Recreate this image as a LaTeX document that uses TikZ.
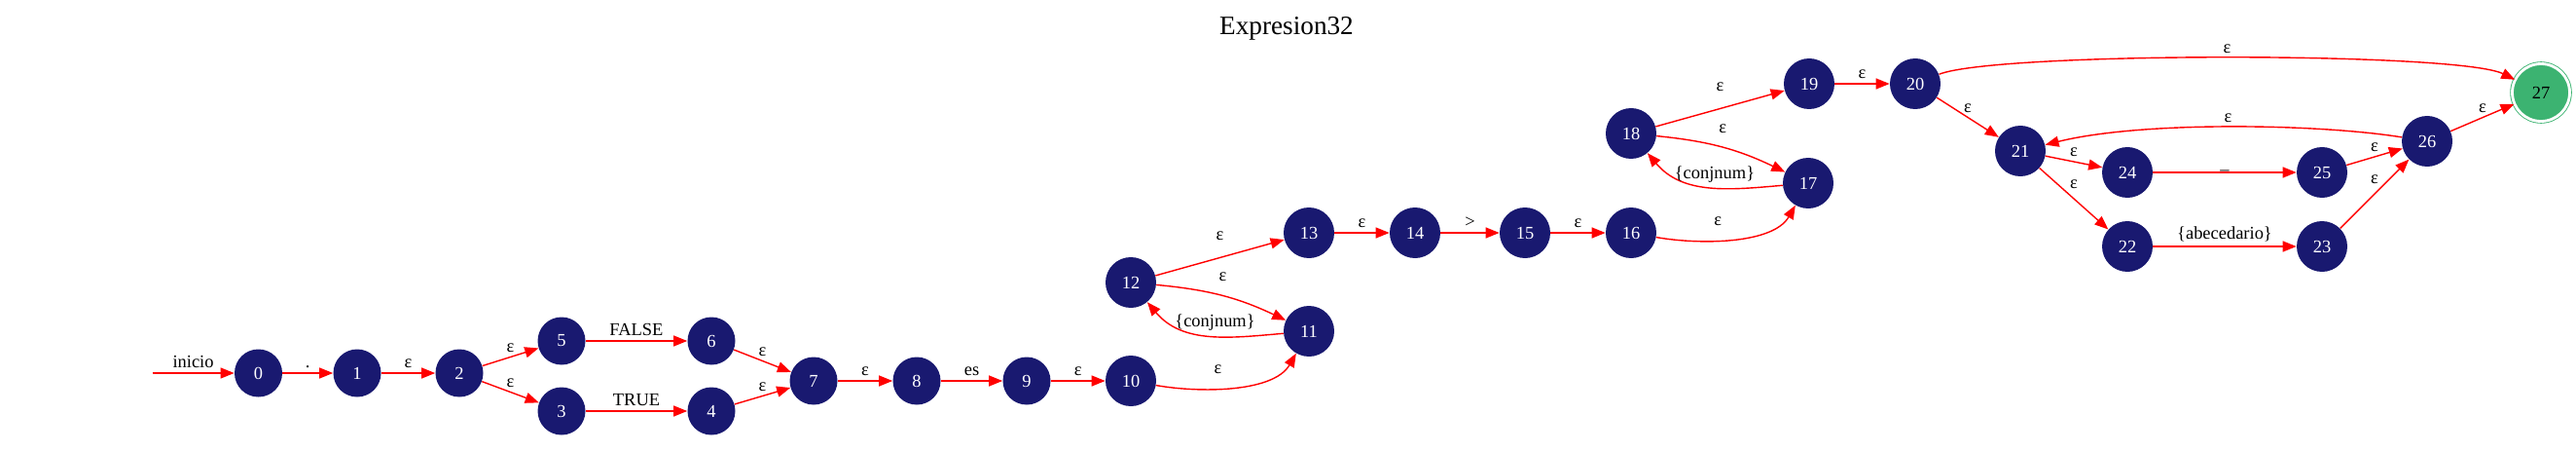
\documentclass[tikz,border=0pt]{standalone}
\usepackage{fontspec}
\setmainfont{Liberation Serif}
\usepackage{tikz}
\usetikzlibrary{arrows.meta}
\definecolor{midnight}{HTML}{191970}
\definecolor{seagreen}{HTML}{3CB371}

\begin{document}
\begin{tikzpicture}[node distance=2.18cm,
    every node/.style={font=\fontsize{10.5}{12}\selectfont},
    state/.style={circle, fill=midnight, text=white, minimum size=0.98cm, inner sep=0pt},
    wide/.style={state, minimum size=1.04cm},
    final/.style={circle, fill=seagreen, draw=seagreen, double=white, double distance=1.6pt, line width=0.5pt, minimum size=1.18cm, inner sep=0pt},
    trans/.style={-{Triangle[length=2.8mm, width=2.2mm]}, draw=red, line width=0.8pt},
    lbl/.style={above, inner sep=2.5pt}]
    \useasboundingbox (0,0) rectangle (52.94,9.26);
    \node (title) at (26.44,8.67) {\fontsize{15.5}{18}\selectfont Expresion32};

    \node[state] (n0) at (5.31,1.60) {0};
    \coordinate[left of=n0] (start);
    \node[state, right of=n0, xshift=-0.15cm] (n1) {1};
    \node[state, right of=n1, xshift=-0.08cm] (n2) {2};
    \node[state, right of=n2, xshift=-0.08cm, yshift=0.66cm] (n5) {5};
    \node[state, right of=n2, xshift=-0.08cm, yshift=-0.78cm] (n3) {3};
    \node[state, right of=n5, xshift=0.9cm] (n6) {6};
    \node[state, right of=n3, xshift=0.9cm] (n4) {4};
    \node[state, right of=n6, xshift=-0.08cm, yshift=-0.82cm] (n7) {7};
    \node[state, right of=n7, xshift=-0.06cm] (n8) {8};
    \node[state, right of=n8, xshift=0.08cm] (n9) {9};
    \node[wide, right of=n9, xshift=-0.04cm] (n10) {10};
    \node[wide, above of=n10, yshift=-0.16cm] (n12) {12};
    \node[wide, right of=n12, xshift=1.48cm, yshift=-1.0cm] (n11) {11};
    \node[wide, right of=n12, xshift=1.48cm, yshift=1.02cm] (n13) {13};
    \node[wide, right of=n13] (n14) {14};
    \node[wide, right of=n14, xshift=0.08cm] (n15) {15};
    \node[wide, right of=n15] (n16) {16};
    \node[wide, right of=n16, xshift=1.46cm, yshift=1.02cm] (n17) {17};
    \node[wide, above of=n16, yshift=-0.14cm] (n18) {18};
    \node[wide, right of=n18, xshift=1.48cm, yshift=1.02cm] (n19) {19};
    \node[wide, right of=n19] (n20) {20};
    \node[wide, right of=n20, xshift=-0.02cm, yshift=-1.38cm] (n21) {21};
    \node[wide, right of=n21, xshift=0.02cm, yshift=-0.44cm] (n24) {24};
    \node[wide, right of=n21, xshift=0.02cm, yshift=-1.96cm] (n22) {22};
    \node[wide, right of=n24, xshift=1.82cm] (n25) {25};
    \node[wide, right of=n22, xshift=1.82cm] (n23) {23};
    \node[wide, right of=n25, xshift=-0.02cm, yshift=0.64cm] (n26) {26};
    \node[final, right of=n26, xshift=0.16cm, yshift=1.0cm] (n27) {27};

    \draw[trans] (start) -- node[lbl] {inicio} (n0);
    \draw[trans] (n0) -- node[lbl] {.} (n1);
    \draw[trans] (n1) -- node[lbl] {ε} (n2);
    \draw[trans] (n2) -- node[lbl] {ε} (n5);
    \draw[trans] (n2) -- node[lbl] {ε} (n3);
    \draw[trans] (n5) -- node[lbl] {FALSE} (n6);
    \draw[trans] (n3) -- node[lbl] {TRUE} (n4);
    \draw[trans] (n6) -- node[lbl] {ε} (n7);
    \draw[trans] (n4) -- node[lbl] {ε} (n7);
    \draw[trans] (n7) -- node[lbl] {ε} (n8);
    \draw[trans] (n8) -- node[lbl] {es} (n9);
    \draw[trans] (n9) -- node[lbl] {ε} (n10);
    \draw[trans] (n10) to[out=-10, in=-120, looseness=0.8] node[lbl, above=2mm, pos=0.4] {ε} (n11);
    \draw[trans] (n11) to[out=185, in=-50] node[lbl, pos=0.45] {\{conjnum\}} (n12);
    \draw[trans] (n12) to[bend left=10] node[lbl, above=2mm] {ε} (n11);
    \draw[trans] (n12) -- node[lbl, above=2.6mm] {ε} (n13);
    \draw[trans] (n13) -- node[lbl] {ε} (n14);
    \draw[trans] (n14) -- node[lbl] {>} (n15);
    \draw[trans] (n15) -- node[lbl] {ε} (n16);
    \draw[trans] (n16) to[out=-10, in=-120, looseness=0.8] node[lbl, above=2mm, pos=0.4] {ε} (n17);
    \draw[trans] (n17) to[out=185, in=-50] node[lbl, pos=0.45] {\{conjnum\}} (n18);
    \draw[trans] (n18) to[bend left=10] node[lbl, above=2mm] {ε} (n17);
    \draw[trans] (n18) -- node[lbl, above=2.6mm] {ε} (n19);
    \draw[trans] (n19) -- node[lbl] {ε} (n20);
    \draw[trans] (n20) .. controls +(1.66,0.66) and +(-1.7,0.84) .. node[lbl] {ε} (n27);
    \draw[trans] (n20) -- node[lbl] {ε} (n21);
    \draw[trans] (n21) -- node[lbl] {ε} (n24);
    \draw[trans] (n21) -- node[lbl, above=1mm] {ε} (n22);
    \draw[trans] (n24) -- node[lbl, inner sep=0.5pt] {\_} (n25);
    \draw[trans] (n22) -- node[lbl] {\{abecedario\}} (n23);
    \draw[trans] (n25) -- node[lbl] {ε} (n26);
    \draw[trans] (n23) -- node[lbl, above=1mm] {ε} (n26);
    \draw[trans] (n26) .. controls +(-2.26,0.36) and +(2.5,0.62) .. node[lbl] {ε} (n21);
    \draw[trans] (n26) -- node[lbl] {ε} (n27);
\end{tikzpicture}
\end{document}
